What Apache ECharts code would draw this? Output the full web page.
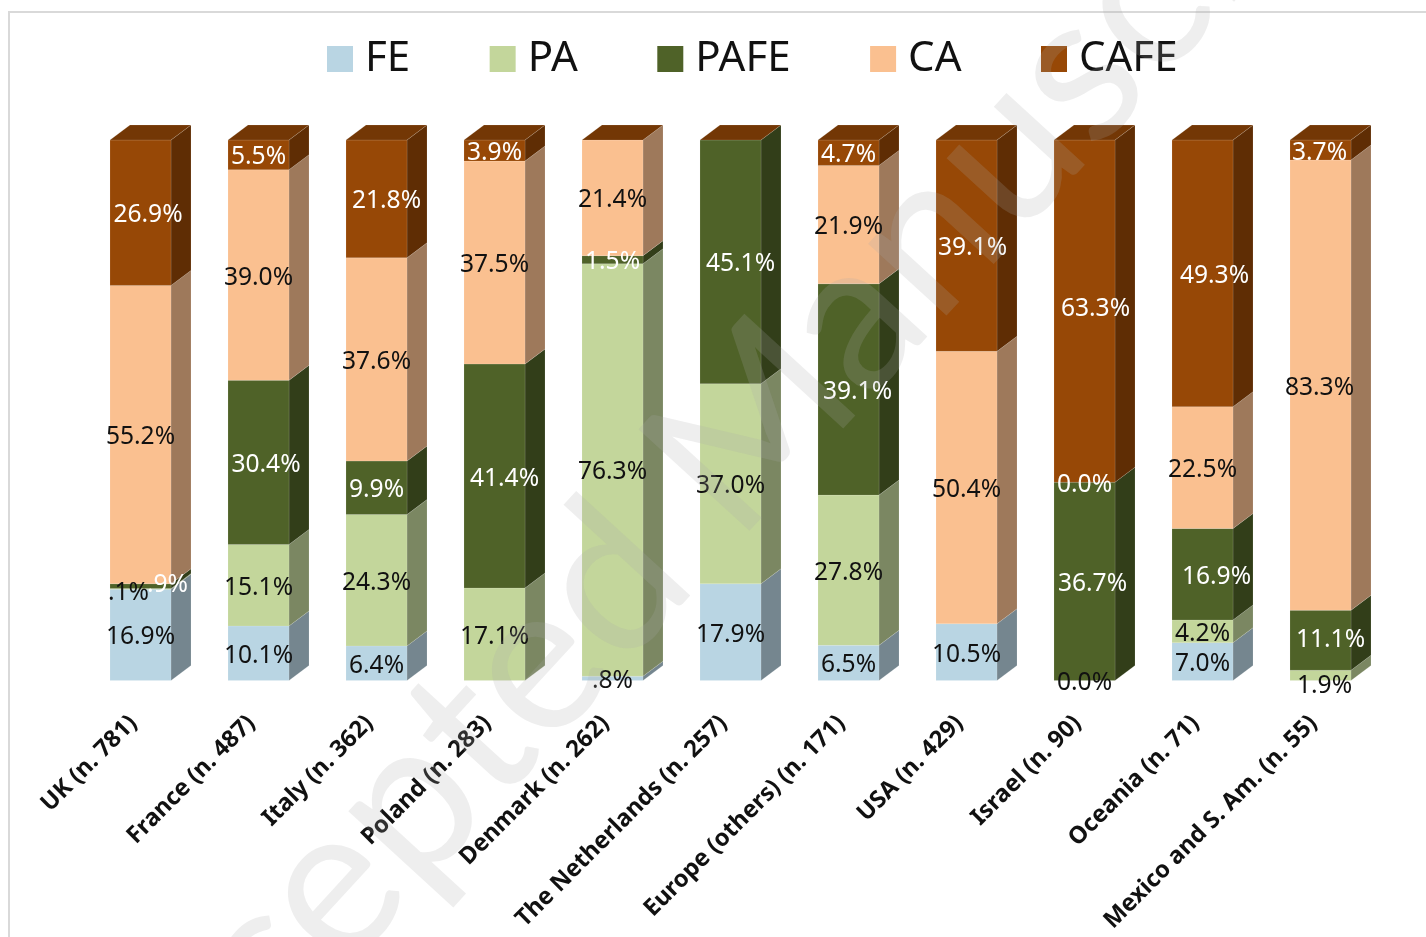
<!DOCTYPE html>
<html><head><meta charset="utf-8">
<style>html,body{margin:0;padding:0;background:#fff}#c{width:1426px;height:937px}</style>
<script src="https://cdn.jsdelivr.net/npm/echarts@6/dist/echarts.min.js"></script>
</head><body><div id="c"></div>
<script>
const categories=['UK (n. 781)','France (n. 487)','Italy (n. 362)','Poland (n. 283)','Denmark (n. 262)','The Netherlands (n. 257)','Europe (others) (n. 171)','USA (n. 429)','Israel (n. 90)','Oceania (n. 71)','Mexico and S. Am. (n. 55)'];
const FE  =[16.9,10.1,6.4,null,0.8,17.9,6.5,10.5,0.0,7.0,null];
const PA  =[0.1,15.1,24.3,17.1,76.3,37.0,27.8,null,null,4.2,1.9];
const PAFE=[0.9,30.4,9.9,41.4,1.5,45.1,39.1,null,36.7,16.9,11.1];
const CA  =[55.2,39.0,37.6,37.5,21.4,null,21.9,50.4,0.0,22.5,83.3];
const CAFE=[26.9,5.5,21.8,3.9,null,null,4.7,39.1,63.3,49.3,3.7];
const seriesNames=['FE','PA','PAFE','CA','CAFE'];
const seriesValues=[FE,PA,PAFE,CA,CAFE];
const colors=['#B9D5E3','#C3D69B','#4F6228','#FAC090','#974806'];
const labelColors=['#111','#111','#fff','#111','#fff'];
// label nudges in px, per series then per category
const nudgeX=[
 [0,0,0,0,0,0,0,0,0,0,0],
 [-12,0,0,0,0,0,0,0,0,0,4],
 [27,7.5,0,10,0,10,9,0,8,14,10],
 [0,0,0,0,0,0,0,0,0,0,-1],
 [7.5,0,10,0,0,0,0,6,11,12,-1]];
const nudgeY={'1-0':2,'2-0':-4,'1-10':8,'4-8':-5,'2-10':-3};

function shade(hex,k){
  const n=parseInt(hex.slice(1),16);
  return 'rgb('+[(n>>16)&255,(n>>8)&255,n&255].map(c=>Math.round(c*k)).join(',')+')';
}
function labelText(v){
  const t=v.toFixed(1)+'%';
  return (v>0&&v<1)?t.slice(1):t;
}
const series=seriesNames.map((name,s)=>{
  const data=categories.map((c,i)=>{
    let base=0,total=0;
    seriesValues.forEach((arr,k)=>{ total+=arr[i]||0; if(k<s) base+=arr[i]||0; });
    const v=seriesValues[s][i];
    return [i,base/total*100,(base+(v||0))/total*100,v===null?-1:v];
  });
  return {
    name,type:'custom',coordinateSystem:'cartesian2d',
    itemStyle:{color:colors[s]},
    encode:{x:0,y:[1,2]},
    data,
    renderItem(params,api){
      const i=api.value(0),b=api.value(1),t=api.value(2),v=api.value(3);
      const p0=api.coord([i,b]),p1=api.coord([i,t]);
      const w=api.size([1,0])[0]*0.517;
      const dx=20,dy=15;
      const L=p0[0]-w/2,R=p0[0]+w/2,yb=p0[1],yt=p1[1];
      const edge='rgba(255,255,255,0.12)';
      const children=[];
      if(yb-yt>0){
        children.push({type:'polygon',shape:{points:[[R,yb],[R+dx,yb-dy],[R+dx,yt-dy],[R,yt]]},style:{fill:shade(colors[s],0.63),stroke:edge,lineWidth:1}});
        children.push({type:'rect',shape:{x:L,y:yt,width:w,height:yb-yt},style:{fill:colors[s],stroke:edge,lineWidth:1}});
      }
      if(s===4){
        children.push({type:'polygon',shape:{points:[[L,yt],[L+dx,yt-dy],[R+dx,yt-dy],[R,yt]]},style:{fill:shade(colors[s],0.76),stroke:edge,lineWidth:1}});
      }
      if(v>=0){
        const isIsraelCA=(s===3&&i===8);
        children.push({type:'text',z2:50,style:{
          x:p0[0]+nudgeX[s][i],
          y:(yb+yt)/2+2.5+(nudgeY[s+'-'+i]||0),
          text:labelText(v),
          fill:isIsraelCA?'#fff':labelColors[s],
          font:'24.6px "Noto Sans"',align:'center',verticalAlign:'middle'}});
      }
      return {type:'group',children};
    }
  };
});
const chart=echarts.init(document.getElementById('c'),null,{renderer:'canvas'});
chart.setOption({
  animation:false,
  backgroundColor:'#fff',
  legend:{left:322,top:33,icon:'rect',itemWidth:26,itemHeight:26,itemGap:79.5,
    data:seriesNames,
    textStyle:{fontFamily:'Noto Sans',fontSize:42,color:'#111',padding:[0,0,0,7]}},
  grid:{left:81.5,top:140,width:1298,height:540.5},
  xAxis:{type:'category',data:categories,axisLine:{show:false},axisTick:{show:false},
    axisLabel:{interval:0,rotate:45,margin:32,padding:[0,10,0,0],color:'#111',fontFamily:'Noto Sans',fontWeight:'bold',fontSize:23.7}},
  yAxis:{type:'value',min:0,max:100,show:false},
  series,
  graphic:[
    {type:'rect',z:0,silent:true,shape:{x:9,y:12,width:1500,height:1000},style:{fill:'none',stroke:'#D9D9D9',lineWidth:2}},
    {type:'text',z:100,silent:true,x:727,y:455,rotation:47.5*Math.PI/180,
     style:{text:'Accepted Manuscript',font:'210px Lato',fill:'rgba(170,170,170,0.2)',align:'center',verticalAlign:'middle'}}
  ]
});
</script></body></html>
